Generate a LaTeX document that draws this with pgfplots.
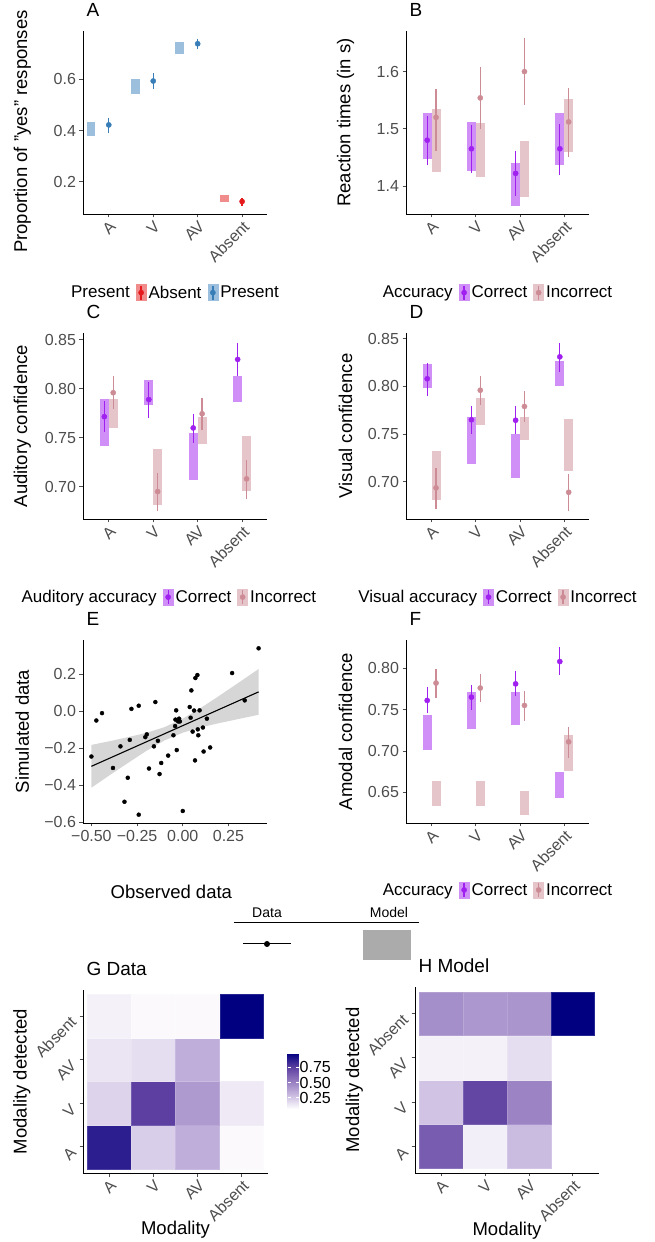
\documentclass[border=0pt]{standalone}
\usepackage{fontspec}
\setmainfont{Liberation Sans}
\usepackage{pgfplots}
\usepackage{pgfplotstable}
\pgfplotsset{compat=1.18}

\definecolor{PresP}{HTML}{377EB8}
\definecolor{PresR}{HTML}{9BBFDC}
\definecolor{AbsP}{HTML}{E41A1C}
\definecolor{AbsR}{HTML}{F18C8D}
\definecolor{CorrP}{HTML}{A020F0}
\definecolor{CorrR}{HTML}{CF8FF7}
\definecolor{IncP}{HTML}{CD8C95}
\definecolor{IncR}{HTML}{E6C5CA}
\definecolor{TickGrey}{HTML}{4D4D4D}

\newcommand\fsz[1]{\fontsize{#1}{#1}\selectfont}

% panel data: rx = model box x, px = data point x, rlo/rhi = model box, m/lo/hi = data mean and interval
\pgfplotstableread{
rx px rlo rhi m lo hi
0.6 1 0.379 0.434 0.422 0.392 0.448
1.6 2 0.543 0.603 0.594 0.562 0.624
2.6 3 0.700 0.745 0.740 0.718 0.760
}\Apres
\pgfplotstableread{
rx px rlo rhi m lo hi
3.6 4 0.120 0.149 0.122 0.106 0.135
}\Aabs
\pgfplotstableread{
rx px rlo rhi m lo hi
0.9 0.9 1.447 1.527 1.480 1.437 1.522
1.9 1.9 1.427 1.511 1.465 1.423 1.507
2.9 2.9 1.365 1.440 1.422 1.382 1.462
3.9 3.9 1.437 1.528 1.465 1.419 1.509
}\Bcor
\pgfplotstableread{
rx px rlo rhi m lo hi
1.1 1.1 1.424 1.534 1.520 1.462 1.569
2.1 2.1 1.416 1.510 1.554 1.499 1.608
3.1 3.1 1.381 1.479 1.600 1.542 1.658
4.1 4.1 1.460 1.552 1.512 1.450 1.571
}\Binc
\pgfplotstableread{
rx px rlo rhi m lo hi
0.9 0.9 0.742 0.7895 0.7715 0.756 0.7875
1.9 1.9 0.783 0.809 0.789 0.770 0.807
2.9 2.9 0.707 0.755 0.760 0.745 0.774
3.9 3.9 0.786 0.813 0.830 0.8132 0.8465
}\Ccor
\pgfplotstableread{
rx px rlo rhi m lo hi
1.1 1.1 0.760 0.7895 0.796 0.779 0.8126
2.1 2.1 0.681 0.738 0.695 0.675 0.714
3.1 3.1 0.744 0.771 0.7745 0.7576 0.791
4.1 4.1 0.6955 0.752 0.708 0.6877 0.7274
}\Cinc
\pgfplotstableread{
rx px rlo rhi m lo hi
0.9 0.9 0.798 0.824 0.808 0.790 0.825
1.9 1.9 0.719 0.768 0.765 0.750 0.779
2.9 2.9 0.704 0.750 0.7645 0.750 0.779
3.9 3.9 0.8007 0.827 0.831 0.815 0.846
}\Dcor
\pgfplotstableread{
rx px rlo rhi m lo hi
1.1 1.1 0.681 0.732 0.6936 0.6714 0.7146
2.1 2.1 0.760 0.788 0.796 0.780 0.811
3.1 3.1 0.744 0.768 0.779 0.763 0.795
4.1 4.1 0.711 0.766 0.689 0.669 0.708
}\Dinc
\pgfplotstableread{
rx px rlo rhi m lo hi
0.9 0.9 0.701 0.743 0.761 0.7456 0.777
1.9 1.9 0.727 0.771 0.765 0.749 0.780
2.9 2.9 0.731 0.771 0.781 0.766 0.796
3.9 3.9 0.643 0.675 0.808 0.792 0.8256
}\Fcor
\pgfplotstableread{
rx px rlo rhi m lo hi
1.1 1.1 0.633 0.664 0.782 0.764 0.799
2.1 2.1 0.633 0.664 0.776 0.759 0.793
3.1 3.1 0.623 0.652 0.755 0.736 0.7725
4.1 4.1 0.676 0.719 0.711 0.692 0.729
}\Finc
\pgfplotstableread{
x y
-0.500 -0.245
-0.473 -0.050
-0.442 -0.010
-0.382 -0.307
-0.341 -0.190
-0.319 -0.490
-0.301 -0.360
-0.290 -0.155
-0.281 0.013
-0.241 0.030
-0.241 -0.560
-0.205 -0.140
-0.197 -0.125
-0.185 -0.310
-0.158 -0.190
-0.150 0.050
-0.136 -0.160
-0.127 -0.340
-0.118 -0.280
-0.080 -0.240
-0.051 -0.130
-0.042 -0.080
-0.036 0.005
-0.040 -0.045
-0.033 -0.210
-0.025 -0.055
-0.020 -0.040
-0.016 -0.055
0.000 -0.540
0.038 0.023
0.043 -0.035
0.047 0.113
0.054 -0.110
0.062 0.004
0.067 -0.266
0.069 0.180
0.080 0.196
0.082 -0.098
0.085 -0.130
0.092 0.005
0.110 -0.088
0.114 -0.218
0.132 -0.040
0.150 -0.196
0.270 0.207
0.339 0.059
0.415 0.341
}\Epts
\pgfplotstableread{
x y v
1 1 0.878
2 1 0.227
3 1 0.339
4 1 0.079
1 2 0.209
2 2 0.758
3 2 0.413
4 2 0.134
1 3 0.153
2 3 0.172
3 3 0.339
1 4 0.107
2 4 0.079
3 4 0.079
4 4 0.990
}\Gdat
\pgfplotstableread{
x y v
1 1 0.646
2 1 0.116
3 1 0.293
1 2 0.265
2 2 0.730
3 2 0.497
1 3 0.107
2 3 0.107
3 3 0.172
1 4 0.451
2 4 0.423
3 4 0.432
4 4 0.990
}\Hdat

\pgfplotsset{
  gg/.style={
    scale only axis,
    axis lines*=left,
    axis line style={black, line width=0.9pt},
    tick align=outside,
    major tick length=3.5pt,
    tick style={TickGrey, line width=0.8pt},
    tick label style={font=\fsz{16}, text=TickGrey},
    label style={font=\fsz{18.5}, text=black},
    ylabel style={at={(axis description cs:-0.33,0.5)}, anchor=center},
    title style={at={(axis description cs:0,1)}, anchor=base west, yshift=8.5pt, font=\fsz{19}},
  },
  cat/.style={
    gg, xmin=0.42, xmax=4.56, xtick={1,2,3,4}, xticklabels={A,V,AV,Absent},
    xticklabel style={rotate=45, anchor=north east, inner sep=1.5pt},
    legend style={draw=none, fill=none, legend columns=-1, font=\fsz{17}, anchor=center,
      /tikz/every even column/.append style={column sep=4pt}, nodes={inner sep=2.2pt}},
    legend cell align=left,
  },
  heatax/.style={
    gg, xmin=0.4, xmax=4.6, ymin=0.4, ymax=4.6,
    xtick={1,2,3,4}, xticklabels={A,V,AV,Absent},
    ytick={1,2,3,4}, yticklabels={A,V,AV,Absent},
    xticklabel style={rotate=45, anchor=north east, inner sep=1.5pt},
    yticklabel style={rotate=45, anchor=east, inner sep=1.5pt, xshift=-5pt, yshift=2pt},
    xlabel style={at={(axis description cs:0.5,-0.31)}, anchor=center},
    colormap={ggpurple}{rgb255=(255,255,255) rgb255=(202,187,224) rgb255=(148,123,192) rgb255=(92,63,160) rgb255=(0,0,128)},
    point meta min=0.06, point meta max=0.99,
  },
  heat/.style={scatter, only marks, mark=square*, mark size=21.9pt, point meta=explicit,
    scatter/use mapped color={draw=mapped color!85!white, fill=mapped color}, mark options={line width=0.3pt}},
  rc/.style={only marks, mark=*, mark options={draw opacity=0, fill opacity=0},
    error bars/.cd, y dir=both, y explicit, error mark=none,
    error bar style={line width=8.9pt, color=#1}},
  pr/.style={only marks, mark=*, mark size=2.6pt, color=#1, mark options={draw=#1, fill=#1},
    error bars/.cd, y dir=both, y explicit, error mark=none,
    error bar style={line width=1.3pt, color=#1}},
  key/.style 2 args={legend image code/.code={
    \fill[#1] (0pt,-8pt) rectangle (10pt,8pt);
    \draw[#2, line width=1.3pt] (5pt,-7pt) -- (5pt,7pt);
    \fill[#2] (5pt,0pt) circle (2.6pt);}},
  table/boxes/.style={x=rx, y expr=(\thisrow{rlo}+\thisrow{rhi})/2, y error expr=(\thisrow{rhi}-\thisrow{rlo})/2},
  table/points/.style={x=px, y=m, y error plus expr=\thisrow{hi}-\thisrow{m}, y error minus expr=\thisrow{m}-\thisrow{lo}},
}

\begin{document}
\begin{tikzpicture}
\useasboundingbox (0,0) rectangle (654pt,1242pt);

% ---- A
\begin{axis}[cat, at={(83pt,1028pt)}, anchor=south west, width=184pt, height=183pt,
  ymin=0.073, ymax=0.79, ytick={0.2,0.4,0.6}, yticklabels={0.2,0.4,0.6},
  ylabel={Proportion of "yes" responses}, title={A},
  ylabel style={at={(axis description cs:-0.33,0.45)}},
  legend style={at={(0.5,-0.43)}}]
\addplot[forget plot, rc=PresR] table[boxes] {\Apres};
\addplot[forget plot, rc=AbsR] table[boxes] {\Aabs};
\addplot[forget plot, pr=PresP] table[points] {\Apres};
\addplot[forget plot, pr=AbsP] table[points] {\Aabs};
\addlegendimage{empty legend}\addlegendentry{Present}
\addlegendimage{key={AbsR}{AbsP}}\addlegendentry{Absent}
\addlegendimage{key={PresR}{PresP}}\addlegendentry{Present}
\end{axis}

% ---- B
\begin{axis}[cat, at={(406pt,1028pt)}, anchor=south west, width=183pt, height=183pt,
  ymin=1.351, ymax=1.671, ytick={1.4,1.5,1.6}, yticklabels={1.4,1.5,1.6},
  ylabel={Reaction times (in s)}, title={B},
  legend style={at={(0.5,-0.43)}}]
\addplot[forget plot, rc=CorrR] table[boxes] {\Bcor};
\addplot[forget plot, rc=IncR] table[boxes] {\Binc};
\addplot[forget plot, pr=CorrP] table[points] {\Bcor};
\addplot[forget plot, pr=IncP] table[points] {\Binc};
\addlegendimage{empty legend}\addlegendentry{Accuracy}
\addlegendimage{key={CorrR}{CorrP}}\addlegendentry{Correct}
\addlegendimage{key={IncR}{IncP}}\addlegendentry{Incorrect}
\end{axis}

% ---- C
\begin{axis}[cat, at={(83pt,723pt)}, anchor=south west, width=184pt, height=186pt,
  ymin=0.667, ymax=0.857, ytick={0.70,0.75,0.80,0.85}, yticklabels={0.70,0.75,0.80,0.85},
  ylabel={Auditory confidence}, title={C},
  legend style={at={(0.467,-0.42)}}]
\addplot[forget plot, rc=CorrR] table[boxes] {\Ccor};
\addplot[forget plot, rc=IncR] table[boxes] {\Cinc};
\addplot[forget plot, pr=CorrP] table[points] {\Ccor};
\addplot[forget plot, pr=IncP] table[points] {\Cinc};
\addlegendimage{empty legend}\addlegendentry{Auditory accuracy}
\addlegendimage{key={CorrR}{CorrP}}\addlegendentry{Correct}
\addlegendimage{key={IncR}{IncP}}\addlegendentry{Incorrect}
\end{axis}

% ---- D
\begin{axis}[cat, at={(406pt,723pt)}, anchor=south west, width=183pt, height=186pt,
  ymin=0.661, ymax=0.856, ytick={0.70,0.75,0.80,0.85}, yticklabels={0.70,0.75,0.80,0.85},
  ylabel={Visual confidence}, title={D},
  legend style={at={(0.5,-0.42)}}]
\addplot[forget plot, rc=CorrR] table[boxes] {\Dcor};
\addplot[forget plot, rc=IncR] table[boxes] {\Dinc};
\addplot[forget plot, pr=CorrP] table[points] {\Dcor};
\addplot[forget plot, pr=IncP] table[points] {\Dinc};
\addlegendimage{empty legend}\addlegendentry{Visual accuracy}
\addlegendimage{key={CorrR}{CorrP}}\addlegendentry{Correct}
\addlegendimage{key={IncR}{IncP}}\addlegendentry{Incorrect}
\end{axis}

% ---- E
\begin{axis}[gg, at={(83pt,419pt)}, anchor=south west, width=184pt, height=183pt,
  xmin=-0.546, xmax=0.461, ymin=-0.605, ymax=0.386,
  xtick={-0.5,-0.25,0,0.25}, xticklabels={−0.50,−0.25,0.00,0.25},
  ytick={-0.6,-0.4,-0.2,0,0.2}, yticklabels={−0.6,−0.4,−0.2,0.0,0.2},
  xlabel={Observed data}, ylabel={Simulated data}, title={E},
  xlabel style={at={(axis description cs:0.48,-0.377)}, anchor=center}]
\addplot[only marks, mark=*, mark size=2pt, black] table {\Epts};
\addplot[fill=black!40, fill opacity=0.4, draw=none] coordinates {
  (-0.5,-0.182) (-0.4,-0.162) (-0.3,-0.140) (-0.2,-0.117) (-0.1,-0.086) (0,-0.040)
  (0.1,0.019) (0.2,0.084) (0.3,0.151) (0.415,0.229)
  (0.415,-0.019) (0.3,-0.043) (0.2,-0.064) (0.1,-0.087) (0,-0.116) (-0.1,-0.158)
  (-0.2,-0.215) (-0.3,-0.280) (-0.4,-0.346) (-0.5,-0.414)} -- cycle;
\addplot[black, line width=1.1pt] coordinates {(-0.5,-0.298) (0.415,0.105)};
\end{axis}

% ---- F
\begin{axis}[cat, at={(406pt,419pt)}, anchor=south west, width=183pt, height=183pt,
  ymin=0.613, ymax=0.834, ytick={0.65,0.70,0.75,0.80}, yticklabels={0.65,0.70,0.75,0.80},
  ylabel={Amodal confidence}, title={F},
  legend style={at={(0.5,-0.366)}}]
\addplot[forget plot, rc=CorrR] table[boxes] {\Fcor};
\addplot[forget plot, rc=IncR] table[boxes] {\Finc};
\addplot[forget plot, pr=CorrP] table[points] {\Fcor};
\addplot[forget plot, pr=IncP] table[points] {\Finc};
\addlegendimage{empty legend}\addlegendentry{Accuracy}
\addlegendimage{key={CorrR}{CorrP}}\addlegendentry{Correct}
\addlegendimage{key={IncR}{IncP}}\addlegendentry{Incorrect}
\end{axis}

% ---- Data / Model key
\node[font=\fsz{14}] at (267pt,329pt) {Data};
\node[font=\fsz{14}] at (389pt,329pt) {Model};
\draw[line width=0.8pt] (234pt,320pt) -- (419pt,320pt);
\draw[line width=1pt] (243pt,298pt) -- (291pt,298pt);
\fill (267pt,298pt) circle (3pt);
\fill[black!33] (363pt,282pt) rectangle (411pt,312pt);

% ---- G
\begin{axis}[heatax, at={(83pt,69pt)}, anchor=south west, width=185pt, height=183pt,
  xlabel={Modality}, ylabel={Modality detected}, title={G Data},
  colorbar, colorbar style={
    at={(parent axis.south east)}, anchor=south west, xshift=11pt, yshift=64pt,
    scale only axis, width=11pt, height=56pt,
    axis line style={draw=none},
    ytick={0.25,0.5,0.75}, yticklabels={0.25,0.50,0.75},
    yticklabel style={font=\fsz{16}, text=black, inner sep=1pt},
    major tick length=3pt, tick align=inside,
    ytick style={white, line width=0.6pt}}]
\addplot[heat] table[x=x, y=y, meta=v] {\Gdat};
\end{axis}

% ---- H
\begin{axis}[heatax, at={(415pt,69pt)}, anchor=south west, width=184pt, height=186pt,
  xlabel={Modality}, ylabel={Modality detected}, title={H Model}]
\addplot[heat] table[x=x, y=y, meta=v] {\Hdat};
\end{axis}
\end{tikzpicture}
\end{document}
